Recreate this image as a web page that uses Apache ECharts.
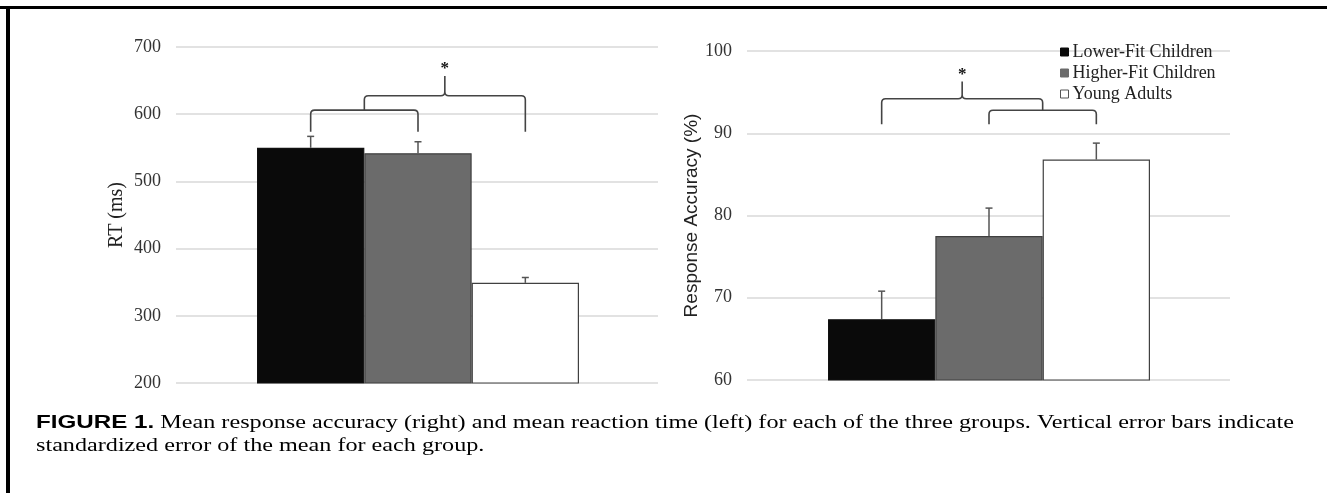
<!DOCTYPE html>
<html>
<head>
<meta charset="utf-8">
<script src="https://cdn.jsdelivr.net/npm/echarts@6/dist/echarts.min.js"></script>
<style>
html,body{margin:0;padding:0;background:#fff;}
#chart{width:1327px;height:493px;}
</style>
</head>
<body>
<div id="chart"></div>
<script>
// ---------- data ----------
const groups = ['Lower-Fit Children', 'Higher-Fit Children', 'Young Adults'];
const groupColors = ['#0a0a0a', '#6b6b6b', '#ffffff'];

// Left panel: reaction time (ms)
const rtMeans = [550, 542, 349];
const rtErrors = [17, 17, 8];
const rtTicks = [200, 300, 400, 500, 600, 700];

// Right panel: response accuracy (%)
const accMeans = [67.4, 77.5, 86.8];
const accErrors = [3.4, 3.4, 2.0];
const accTicks = [60, 70, 80, 90, 100];

// significance brackets: [fromGroup, toGroup, barLevel, leftLegEnd, rightLegEnd, tipTop (or null)]
const rtBrackets = [
  [0, 1, 606, 574, 574, null],
  [0.5, 2, 627.5, 606, 574, 657]
];
const accBrackets = [
  [0, 1.5, 94.2, 91.1, 92.8, 96.3],
  [1, 2, 92.8, 91.1, 91.1, null]
];

const captionBold = 'FIGURE 1.';
const captionLine1 = ' Mean response accuracy (right) and mean reaction time (left) for each of the three groups. Vertical error bars indicate';
const captionLine2 = 'standardized error of the mean for each group.';

// ---------- helpers ----------
const SERIF = '"Liberation Serif", "Times New Roman", serif';
const SANS = '"Liberation Sans", Arial, sans-serif';
const CAP_SIZE = 18.5;

// caption is set in a horizontally widened face; fit line 1 to its span
const measureCtx = document.createElement('canvas').getContext('2d');
function textW(txt, font) { measureCtx.font = font; return measureCtx.measureText(txt).width; }
const capNatural = textW(captionBold, 'bold ' + CAP_SIZE + 'px ' + SANS) +
                   textW(captionLine1, CAP_SIZE + 'px ' + SERIF);
const capScale = 1258 / capNatural;

function xAt(api, x) {
  const i = Math.floor(x), f = x - i;
  const a = api.coord([i, 0])[0];
  if (!f) return a;
  const b = api.coord([i + 1, 0])[0];
  return a + (b - a) * f;
}

function renderErr(params, api) {
  const x = api.value(0), v = api.value(1), e = api.value(2);
  const base = api.coord([x, v]);
  const top = api.coord([x, v + e]);
  const st = {stroke: '#555', lineWidth: 1.5};
  return {type: 'group', children: [
    {type: 'line', shape: {x1: base[0], y1: base[1], x2: top[0], y2: top[1]}, style: st},
    {type: 'line', shape: {x1: top[0] - 3.5, y1: top[1], x2: top[0] + 3.5, y2: top[1]}, style: st}
  ]};
}

function renderBracket(params, api) {
  const x0v = api.value(0), x1v = api.value(1);
  const X0 = xAt(api, x0v), X1 = xAt(api, x1v);
  const Y = api.coord([0, api.value(2)])[1];
  const Y0 = api.coord([0, api.value(3)])[1];
  const Y1 = api.coord([0, api.value(4)])[1];
  const tipV = api.value(5);
  const r = 4;
  let d = 'M' + X0 + ' ' + Y0 + ' L' + X0 + ' ' + (Y + r) + ' Q' + X0 + ' ' + Y + ' ' + (X0 + r) + ' ' + Y;
  const children = [];
  if (tipV != null && !isNaN(tipV)) {
    const Xm = (X0 + X1) / 2;
    const T = api.coord([0, tipV])[1];
    d += ' L' + (Xm - r) + ' ' + Y + ' Q' + Xm + ' ' + Y + ' ' + Xm + ' ' + (Y - r) +
         ' L' + Xm + ' ' + T + ' M' + Xm + ' ' + (Y - r) + ' Q' + Xm + ' ' + Y + ' ' + (Xm + r) + ' ' + Y;
    children.push({type: 'text', x: Xm, y: T - 7, style: {
      text: '*', fontFamily: SERIF, fontWeight: 'bold', fontSize: 17, fill: '#111',
      align: 'center', verticalAlign: 'middle'}});
  }
  d += ' L' + (X1 - r) + ' ' + Y + ' Q' + X1 + ' ' + Y + ' ' + X1 + ' ' + (Y + r) + ' L' + X1 + ' ' + Y1;
  children.unshift({type: 'path', shape: {pathData: d}, style: {stroke: '#444', lineWidth: 1.6, fill: null}});
  return {type: 'group', children: children};
}

function oneHot(values, i) {
  return values.map((v, k) => (k === i ? v : '-'));
}

// ---------- option ----------
const grids = [
  {left: 176, right: 669, top: 47, bottom: 110},   // 0 left gridlines
  {left: 257, width: 322, top: 47, bottom: 110},   // 1 left bars
  {left: 747, right: 97, top: 51, bottom: 113},    // 2 right gridlines
  {left: 828, width: 322, top: 51, bottom: 113}    // 3 right bars
];

const xAxes = grids.map((g, i) => ({
  type: 'category', gridIndex: i, data: groups, show: false,
  boundaryGap: true
}));

function gridY(gridIndex, ticks, name, nameFont, nameSize, nameGap) {
  return {
    type: 'value', gridIndex: gridIndex,
    min: ticks[0], max: ticks[ticks.length - 1], interval: ticks[1] - ticks[0],
    axisLine: {show: false}, axisTick: {show: false},
    axisLabel: {fontFamily: SERIF, fontSize: 18, color: '#333', margin: 15},
    splitLine: {lineStyle: {color: '#d9d9d9', width: 1.5}},
    name: name, nameLocation: 'middle', nameGap: nameGap,
    nameTextStyle: {fontFamily: nameFont, fontSize: nameSize, color: '#222'}
  };
}
function hiddenY(gridIndex, ticks) {
  return {type: 'value', gridIndex: gridIndex, min: ticks[0], max: ticks[ticks.length - 1],
          interval: ticks[1] - ticks[0], show: false, splitLine: {show: false}};
}

const yAxes = [
  gridY(0, rtTicks, 'RT (ms)', SERIF, 20, 49),
  hiddenY(1, rtTicks),
  gridY(2, accTicks, 'Response Accuracy (%)', SANS, 19, 46),
  hiddenY(3, accTicks)
];

const series = [];
function addPanel(xi, yi, means, errs, brackets, stackName) {
  groups.forEach((g, i) => {
    series.push({
      name: g, type: 'bar', xAxisIndex: xi, yAxisIndex: yi, stack: stackName,
      barCategoryGap: '0%',
      data: oneHot(means, i),
      itemStyle: {color: groupColors[i], borderColor: i === 0 ? '#111' : '#404040', borderWidth: 1.2},
      emphasis: {disabled: true},
      z: 2
    });
  });
  series.push({
    type: 'custom', xAxisIndex: xi, yAxisIndex: yi, renderItem: renderErr,
    data: means.map((m, i) => [i, m, errs[i]]), z: 3, silent: true
  });
  series.push({
    type: 'custom', xAxisIndex: xi, yAxisIndex: yi, renderItem: renderBracket,
    data: brackets.map(b => [b[0], b[1], b[2], b[3], b[4], b[5] == null ? NaN : b[5]]),
    z: 4, silent: true, clip: false
  });
}
addPanel(1, 1, rtMeans, rtErrors, rtBrackets, 'rt');
addPanel(3, 3, accMeans, accErrors, accBrackets, 'acc');

const option = {
  animation: false,
  backgroundColor: '#fff',
  grid: grids,
  xAxis: xAxes,
  yAxis: yAxes,
  legend: {
    orient: 'vertical', left: 1060, top: 43, padding: 0,
    itemWidth: 8, itemHeight: 8, itemGap: 3,
    selectedMode: false,
    textStyle: {fontFamily: SERIF, fontSize: 18, color: '#222', padding: [0, 0, 0, -1]},
    data: groups.map((g, i) => ({name: g, icon: 'rect',
      itemStyle: {color: groupColors[i], borderColor: i === 2 ? '#555' : groupColors[i], borderWidth: 1}}))
  },
  graphic: [
    {type: 'line', shape: {x1: 0, y1: 7.5, x2: 1327, y2: 7.5}, style: {stroke: '#000', lineWidth: 3}},
    {type: 'line', shape: {x1: 8, y1: 6, x2: 8, y2: 493}, style: {stroke: '#000', lineWidth: 4}},
    {type: 'text', x: 36, y: 423, scaleX: capScale, style: {
      text: '{b|' + captionBold + '}{r|' + captionLine1 + '}',
      verticalAlign: 'middle',
      rich: {
        b: {fontFamily: SANS, fontWeight: 'bold', fontSize: CAP_SIZE, fill: '#000'},
        r: {fontFamily: SERIF, fontSize: CAP_SIZE, fill: '#000'}
      }}},
    {type: 'text', x: 36, y: 446, scaleX: capScale, style: {
      text: captionLine2, fontFamily: SERIF, fontSize: CAP_SIZE, fill: '#000', verticalAlign: 'middle'}}
  ],
  series: series
};

const chart = echarts.init(document.getElementById('chart'), null, {renderer: 'canvas'});
chart.setOption(option);
</script>
</body>
</html>
